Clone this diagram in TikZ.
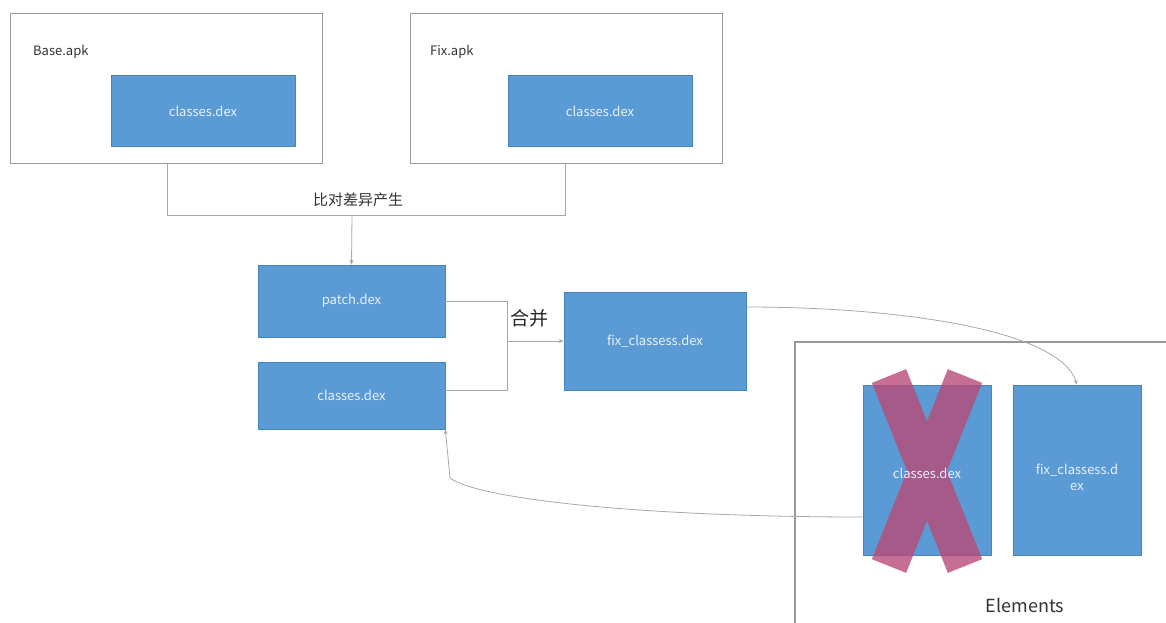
\documentclass[tikz,border=0pt]{standalone}
\usepackage{fontspec}
\setmainfont{Noto Sans CJK SC}
\usetikzlibrary{arrows.meta}
\definecolor{boxblue}{HTML}{5B9BD5}
\definecolor{boxedge}{HTML}{4A84BC}
\definecolor{linegray}{HTML}{A8A8A8}
\definecolor{framegray}{HTML}{9A9A9A}
\definecolor{crossred}{HTML}{B84A78}
\definecolor{txtlight}{HTML}{E8F1FA}
\tikzset{
  bluebox/.style={draw=boxedge, fill=boxblue, line width=0.6pt, inner sep=0pt,
    text=txtlight, font=\fontsize{13}{15}\selectfont},
  frame/.style={draw=framegray, line width=1pt, inner sep=0pt},
  conn/.style={draw=linegray, line width=0.8pt},
  arr/.style={conn, -{Stealth[length=5pt,width=4pt]}},
  lbl/.style={inner sep=0pt, text=black!80, font=\fontsize{13}{15}\selectfont},
  crossbar/.style={draw=crossred, line width=37pt, line cap=butt},
}
\begin{document}
\begin{tikzpicture}[x=1pt,y=-1pt]
\useasboundingbox (0,0) rectangle (1166,622);
\clip (0,0) rectangle (1166,622);
% outer apk frames
\node[frame, minimum width=312pt, minimum height=150pt] (base) at (166,88) {};
\node[frame, minimum width=312pt, minimum height=150pt] (fix) at (566,88) {};
\node[lbl, anchor=west] (basel) at (33,52) {Base.apk};
\node[lbl, anchor=west] (fixl) at (430,52) {Fix.apk};
\node[bluebox, minimum width=184pt, minimum height=71pt] (bcls) at (203,111) {classes.dex};
\node[bluebox, minimum width=184pt, minimum height=71pt] (fcls) at (600,111) {classes.dex};
% diff connector
\coordinate (bd) at (167,163);
\coordinate (fd) at (565,163);
\coordinate (j1) at (167,215);
\coordinate (j2) at (565,215);
\coordinate (jm) at (352,215);
\draw[conn] (bd) -- (j1) -- (j2) -- (fd);
\node[lbl, font=\fontsize{15}{17}\selectfont] (diffl) at (358,200) {比对差异产生};
% patch and classes
\node[bluebox, minimum width=187pt, minimum height=72pt] (patch) at (351.5,301) {patch.dex};
\node[bluebox, minimum width=187pt, minimum height=67pt] (cls) at (351.5,395.5) {classes.dex};
\draw[arr] (jm) -- (patch.north);
% merge
\node[bluebox, minimum width=182pt, minimum height=98pt] (fixc) at (655,341) {fix\_classess.dex};
\coordinate (m1) at (507,301);
\coordinate (m2) at (507,390);
\coordinate (m3) at (507,341);
\draw[conn] (patch.east |- m1) -- (m1) -- (m2) -- (cls.east |- m2);
\draw[arr] (m3) -- (fixc.west |- m3);
\node[lbl, font=\fontsize{19}{21}\selectfont, text=black!85] (mergel) at (529,318) {合并};
% Elements frame
\draw[draw=linegray!90!black, line width=1.5pt] (1175,342) -- (795,342) -- (795,630);
\node[lbl, font=\fontsize{18}{20}\selectfont] (eleml) at (1025,605) {Elements};
\node[bluebox, minimum width=128pt, minimum height=170pt] (oldc) at (927,470) {};
\node[bluebox, minimum width=128pt, minimum height=170pt] (newc) at (1077,470) {};
\node[inner sep=0pt, text=txtlight, font=\fontsize{13}{15}\selectfont, align=center] (newl) at (1077,477) {fix\_classess.d\\[1pt]ex};
% red cross
\coordinate (xa1) at (889,376);
\coordinate (xa2) at (965,566);
\coordinate (xb1) at (965,376);
\coordinate (xb2) at (889,566);
\begin{scope}[transparency group, opacity=0.8]
\draw[crossbar] (xa1) -- (xa2);
\draw[crossbar] (xb1) -- (xb2);
\end{scope}
\node[inner sep=0pt, text=txtlight, font=\fontsize{13}{15}\selectfont] (oldl) at (927,473) {classes.dex};
% curves
\draw[arr] (fixc.east |- 0,307) .. controls (900,307) and (1060,330) .. (newc.north);
\draw[arr] (oldc.west |- 0,517) .. controls (650,517) and (480,500) .. (450,478) -- (cls.south east);
\end{tikzpicture}
\end{document}
